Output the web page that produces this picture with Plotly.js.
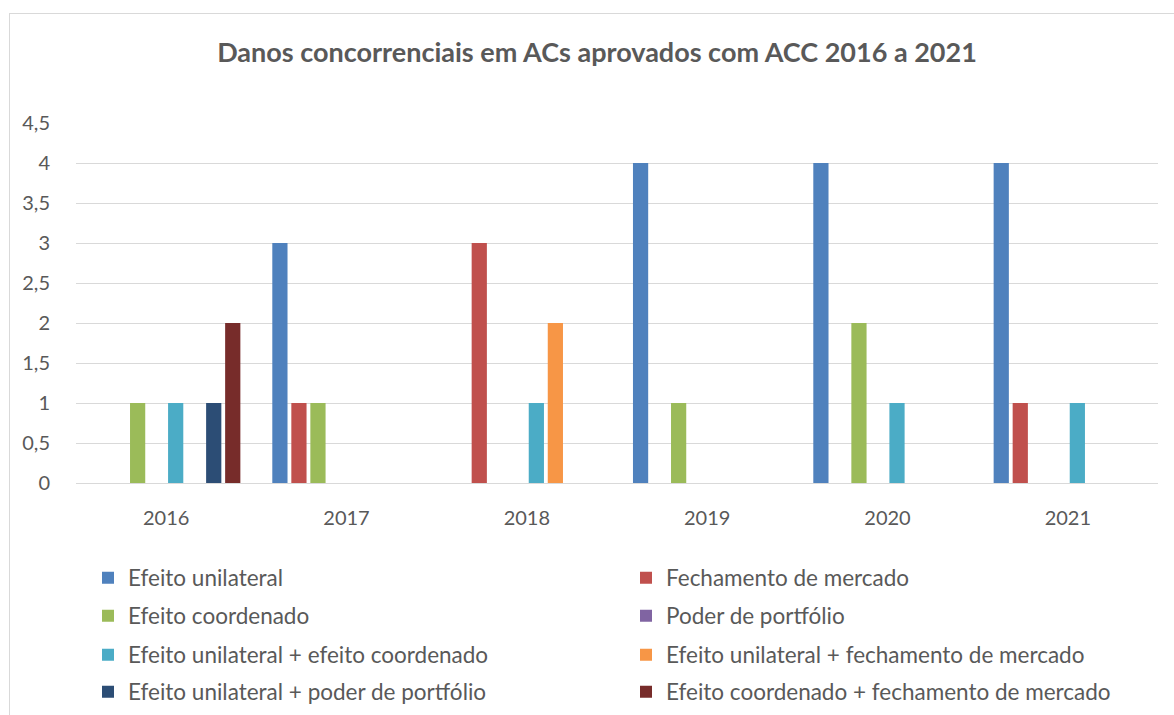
<!DOCTYPE html>
<html>
<head>
<meta charset="utf-8">
<script src="https://cdn.plot.ly/plotly-3.0.1.min.js"></script>
<style>
  html, body { margin: 0; padding: 0; background: #fff; }
  #wrap { position: relative; width: 1174px; height: 715px; overflow: hidden; }
  #chart { position: absolute; left: 0; top: 0; width: 1174px; height: 715px; }
  #frame { position: absolute; left: 9px; top: 13px; width: 1200px; height: 740px; border: 1px solid #D9D9D9; pointer-events: none; }
</style>
</head>
<body>
<div id="wrap">
  <div id="chart"></div>
  <div id="frame"></div>
</div>
<script>
const years = ["2016", "2017", "2018", "2019", "2020", "2021"];

const seriesNames = [
  "Efeito unilateral",
  "Fechamento de mercado",
  "Efeito coordenado",
  "Poder de portfólio",
  "Efeito unilateral + efeito coordenado",
  "Efeito unilateral + fechamento de mercado",
  "Efeito unilateral + poder de portfólio",
  "Efeito coordenado + fechamento de mercado"
];

const efeitoUnilateral = [0, 3, 0, 4, 4, 4];
const fechamentoMercado = [0, 1, 3, 0, 0, 1];
const efeitoCoordenado = [1, 1, 0, 1, 2, 0];
const poderPortfolio = [0, 0, 0, 0, 0, 0];
const unilateralCoordenado = [1, 0, 1, 0, 1, 1];
const unilateralFechamento = [0, 0, 2, 0, 0, 0];
const unilateralPoder = [1, 0, 0, 0, 0, 0];
const coordenadoFechamento = [2, 0, 0, 0, 0, 0];

const seriesValues = [
  efeitoUnilateral, fechamentoMercado, efeitoCoordenado, poderPortfolio,
  unilateralCoordenado, unilateralFechamento, unilateralPoder, coordenadoFechamento
];

const colors = ["#4F81BD", "#C0504D", "#9BBB59", "#8064A2", "#4BACC6", "#F79646", "#2C4D75", "#772C2A"];

const FONT = "Lato, 'Open Sans', sans-serif";
const legendIds = ["legend", "legend2", "legend3", "legend4"];

const traces = seriesNames.map((name, i) => ({
  type: "bar",
  name: name,
  x: years,
  y: seriesValues[i],
  marker: { color: colors[i], line: { width: 0 } },
  legend: legendIds[Math.floor(i / 2)],
  hoverinfo: "x+y+name"
}));

// plot area in pixels
const W = 1174, H = 715;
const L = 76, R = 16, T = 123, B = 232;
const plotH = H - T - B;
function yPaper(px) { return (H - B - px) / plotH; }
function xPaper(px) { return (px - L) / (W - L - R); }

const rowCenters = [578, 616, 655, 692];
const legendBase = {
  orientation: "h",
  entrywidth: 493,
  entrywidthmode: "pixels",
  font: { family: FONT, size: 22.5, color: "#595959" },
  bgcolor: "rgba(0,0,0,0)",
  xanchor: "left",
  yanchor: "middle",
  itemclick: false,
  itemdoubleclick: false
};
const layout = {
  width: W,
  height: H,
  margin: { l: L, r: R, t: T, b: B, autoexpand: false },
  paper_bgcolor: "#ffffff",
  plot_bgcolor: "#ffffff",
  separators: ",.",
  font: { family: FONT, color: "#595959" },
  title: {
    text: "<b>Danos concorrenciais em ACs aprovados com ACC 2016 a 2021</b>",
    font: { family: FONT, size: 27, color: "#595959" },
    x: 597 / W,
    xref: "container",
    xanchor: "center",
    y: 1 - 53 / H,
    yref: "container",
    yanchor: "middle"
  },
  barmode: "group",
  bargap: 0.156,
  bargroupgap: 0.2,
  xaxis: {
    type: "category",
    tickfont: { family: FONT, size: 20, color: "#595959" },
    showgrid: false,
    showline: false,
    ticks: "outside",
    ticklen: 17,
    tickcolor: "rgba(0,0,0,0)",
    fixedrange: true
  },
  yaxis: {
    range: [0, 4.5],
    dtick: 0.5,
    tick0: 0,
    tickfont: { family: FONT, size: 20, color: "#595959" },
    showgrid: true,
    gridcolor: "#D9D9D9",
    gridwidth: 1.3,
    zeroline: true,
    zerolinecolor: "#D9D9D9",
    zerolinewidth: 1.3,
    showline: false,
    ticks: "outside",
    ticklen: 21,
    tickcolor: "rgba(0,0,0,0)",
    fixedrange: true
  },
  showlegend: true
};
legendIds.forEach((id, k) => {
  layout[id] = Object.assign({}, legendBase, { x: xPaper(88), y: yPaper(rowCenters[k]) });
});

Plotly.newPlot("chart", traces, layout, { displayModeBar: false });
</script>
</body>
</html>
